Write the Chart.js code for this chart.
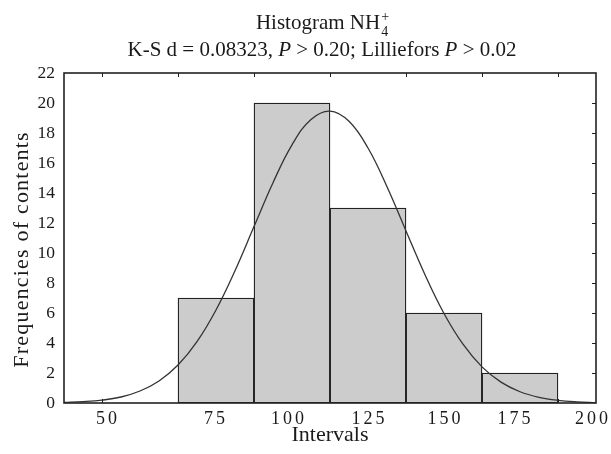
<!DOCTYPE html>
<html>
<head>
<meta charset="utf-8">
<script src="https://cdn.jsdelivr.net/npm/chart.js@4"></script>
<style>
  html, body { margin: 0; padding: 0; background: #fff; }
  #wrap { width: 611px; height: 454px; }
</style>
</head>
<body>
<div id="wrap"><canvas id="hist" width="611" height="454"></canvas></div>
<script>
// histogram bins (centres) and counts
const binCenters = [75, 100, 125, 150, 175];
const frequencies = [7, 20, 13, 6, 2];
// fitted normal curve
const curveX = [25, 31.25, 37.5, 43.75, 50, 56.25, 62.5, 68.75, 75, 81.25, 87.5, 93.75, 100, 106.25,
  112.5, 118.75, 125, 131.25, 137.5, 143.75, 150, 156.25, 162.5, 168.75, 175, 181.25, 187.5, 193.75, 200];
const curveY = [0.04, 0.09, 0.19, 0.4, 0.8, 1.47, 2.53, 4.09, 6.2, 8.82, 11.76, 14.69, 17.21, 18.9,
  19.46, 18.78, 17.0, 14.42, 11.47, 8.55, 5.97, 3.92, 2.41, 1.39, 0.75, 0.38, 0.18, 0.08, 0.03];
// x tick labels and where they sit on the axis in the original
const xTickLabels = ['50', '75', '100', '125', '150', '175', '200'];
const xTickAt = [39, 74.5, 98.5, 125, 150, 173, 198.5];
// small inward tick marks on top / bottom frame
const edgeTicks = [37.5, 62.5, 87.5, 112.5, 137.5, 162.5, 187.5];

const SERIF = '"Liberation Serif", "DejaVu Serif", serif';
const INK = '#1a1a1a';

// draw a string with letter spacing, centred on cx
function spaced(ctx, text, cx, y, sp){
  ctx.letterSpacing = sp + 'px';
  const w = ctx.measureText(text).width - (ctx.letterSpacing === sp + 'px' ? sp : 0);
  ctx.fillText(text, cx - w/2, y);
  ctx.letterSpacing = '0px';
}

function drawRuns(ctx, runs, cx, y){
  let total = 0;
  runs.forEach(r=>{ ctx.font = r.font; r.w = ctx.measureText(r.text).width; total += r.w; });
  let x = cx - total/2;
  runs.forEach(r=>{ ctx.font = r.font; ctx.fillText(r.text, x, y); x += r.w; });
}

const textPlugin = {
  id: 'texts',
  afterDraw(chart){
    const {ctx, chartArea: a, scales} = chart;
    const cx = (a.left + a.right)/2 - 8;
    ctx.save();
    ctx.fillStyle = INK;
    ctx.textBaseline = 'alphabetic';
    ctx.textAlign = 'left';
    // title line 1: Histogram NH4+ with stacked sub/sup
    const main = '21px ' + SERIF, small = '14px ' + SERIF, it = 'italic 21px ' + SERIF;
    ctx.font = main;
    const w1 = ctx.measureText('Histogram NH').width;
    ctx.font = small;
    const ws = Math.max(ctx.measureText('+').width, ctx.measureText('4').width);
    const x0 = cx - (w1 + ws)/2;
    ctx.font = main;
    ctx.fillText('Histogram NH', x0, 29);
    ctx.font = small;
    ctx.fillText('+', x0 + w1 + 1, 21);
    ctx.fillText('4', x0 + w1 + 1, 36);
    // title line 2
    drawRuns(ctx, [
      {text: 'K-S d = 0.08323, ', font: main},
      {text: 'P', font: it},
      {text: ' > 0.20; Lilliefors ', font: main},
      {text: 'P', font: it},
      {text: ' > 0.02', font: main}
    ], cx, 56);
    // x tick labels
    ctx.font = '18px ' + SERIF;
    ctx.textBaseline = 'middle';
    xTickLabels.forEach((lab, i)=>{
      spaced(ctx, lab, scales.x.getPixelForValue(xTickAt[i]), 419, 3);
    });
    // y axis title
    ctx.save();
    ctx.translate(22, (a.top + a.bottom)/2 + 12);
    ctx.rotate(-Math.PI/2);
    ctx.font = '22px ' + SERIF;
    spaced(ctx, 'Frequencies of contents', 0, 0, 1.2);
    ctx.restore();
    ctx.restore();
  }
};

const framePlugin = {
  id: 'frame',
  afterDatasetsDraw(chart){
    const {ctx, chartArea: a, scales} = chart;
    ctx.save();
    ctx.strokeStyle = '#222';
    ctx.lineWidth = 1.6;
    ctx.strokeRect(a.left, a.top, a.right - a.left, a.bottom - a.top);
    ctx.lineWidth = 1;
    ctx.beginPath();
    edgeTicks.forEach(v=>{
      const px = Math.round(scales.x.getPixelForValue(v)) + 0.5;
      ctx.moveTo(px, a.top); ctx.lineTo(px, a.top + 4);
      ctx.moveTo(px, a.bottom); ctx.lineTo(px, a.bottom - 4);
    });
    scales.y.ticks.forEach(t=>{
      if(t.value <= 0 || t.value >= 22) return;
      const py = Math.round(scales.y.getPixelForValue(t.value)) + 0.5;
      ctx.moveTo(a.right, py); ctx.lineTo(a.right - 4, py);
    });
    ctx.stroke();
    ctx.restore();
  }
};

function main(){
  const ctx = document.getElementById('hist').getContext('2d');
  new Chart(ctx, {
    type: 'bar',
    data: {
      datasets: [
        {
          type: 'line',
          data: curveX.map((x, i)=>({x, y: curveY[i]})),
          borderColor: '#333',
          borderWidth: 1.3,
          pointRadius: 0,
          tension: 0.4,
          fill: false,
          order: 0
        },
        {
          type: 'bar',
          data: binCenters.map((x, i)=>({x, y: frequencies[i]})),
          backgroundColor: '#cccccc',
          borderColor: '#222',
          borderWidth: 1.3,
          borderSkipped: false,
          barPercentage: 1,
          categoryPercentage: 1,
          order: 1
        }
      ]
    },
    options: {
      responsive: false,
      animation: false,
      layout: { padding: { top: 73, right: 15, left: 0, bottom: 0 } },
      plugins: { legend: { display: false }, tooltip: { enabled: false } },
      scales: {
        x: {
          type: 'linear',
          min: 25, max: 200,
          offset: false,
          grid: { display: false, drawTicks: false },
          border: { display: false },
          afterFit: s => { s.height = 51; },
          ticks: { stepSize: 25, display: false },
          title: {
            display: true, text: 'Intervals', color: INK,
            font: { family: SERIF, size: 22 },
            padding: { top: 0, bottom: 6 }
          }
        },
        y: {
          min: 0, max: 22,
          grid: { display: false, drawTicks: false },
          border: { display: false },
          afterFit: s => { s.width = 64; },
          ticks: {
            stepSize: 2, padding: 9, color: INK,
            font: { family: SERIF, size: 17.5 }
          }
        }
      }
    },
    plugins: [textPlugin, framePlugin]
  });
}
document.addEventListener('DOMContentLoaded', main);
</script>
</body>
</html>
